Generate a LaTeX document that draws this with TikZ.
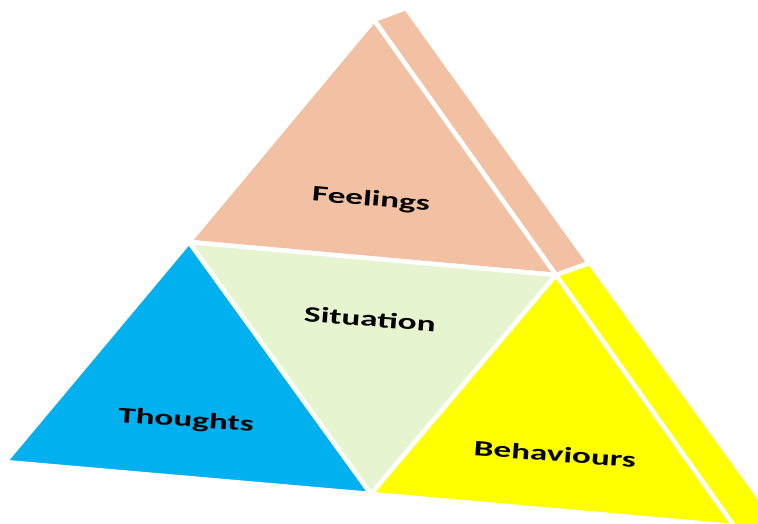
\documentclass[tikz,border=0pt]{standalone}
\usepackage{fontspec}
\usepackage{graphicx}
\setmainfont{Carlito}
\definecolor{peach}{HTML}{F2C0A2}
\definecolor{skyblue}{HTML}{00B0EF}
\definecolor{palegreen}{HTML}{E7F4D0}
\definecolor{brightyellow}{HTML}{FFFF00}
\tikzset{
  face/.style={draw=white, line width=4.5pt, line join=round},
  facelabel/.style={font=\bfseries\fontsize{22}{24}\selectfont, text=black, inner sep=0pt}
}
\newcommand{\wide}[1]{\scalebox{1.6}[1]{#1}}
\begin{document}
\begin{tikzpicture}[x=1pt,y=-1pt]
  \useasboundingbox (0,0) rectangle (758,523);
  \clip (0,0) rectangle (758,523);
  % mesh vertices
  \coordinate (T)  at (374,20);
  \coordinate (S1) at (406,8);
  \coordinate (S2) at (589,263);
  \coordinate (M)  at (556,275);
  \coordinate (L)  at (189,242);
  \coordinate (TL) at (5,462);
  \coordinate (B)  at (371,494);
  \coordinate (R)  at (734,526);
  \coordinate (Y1) at (590,263);
  \coordinate (Y2) at (810,568);
  \coordinate (Y3) at (760,560);
  % faces
  \fill[peach, face] (T) -- (S1) -- (S2) -- (M) -- cycle;
  \fill[brightyellow, face] (M) -- (Y1) -- (Y2) -- (Y3) -- (R) -- cycle;
  \fill[peach, face] (T) -- (L) -- (M) -- cycle;
  \fill[skyblue, face] (L) -- (TL) -- (B) -- cycle;
  \fill[palegreen, face] (L) -- (M) -- (B) -- cycle;
  \fill[brightyellow, face] (M) -- (B) -- (R) -- cycle;
  % labels
  \node[facelabel, rotate=-5] (feel) at (371,200) {\wide{Feelings}};
  \node[facelabel, rotate=-4.5] (sit) at (370,319) {\wide{Situation}};
  \node[facelabel, rotate=-4] (tho) at (186,421) {\wide{Thoughts}};
  \node[facelabel, rotate=-4.5] (beh) at (555,454) {\wide{Behaviours}};
\end{tikzpicture}
\end{document}
